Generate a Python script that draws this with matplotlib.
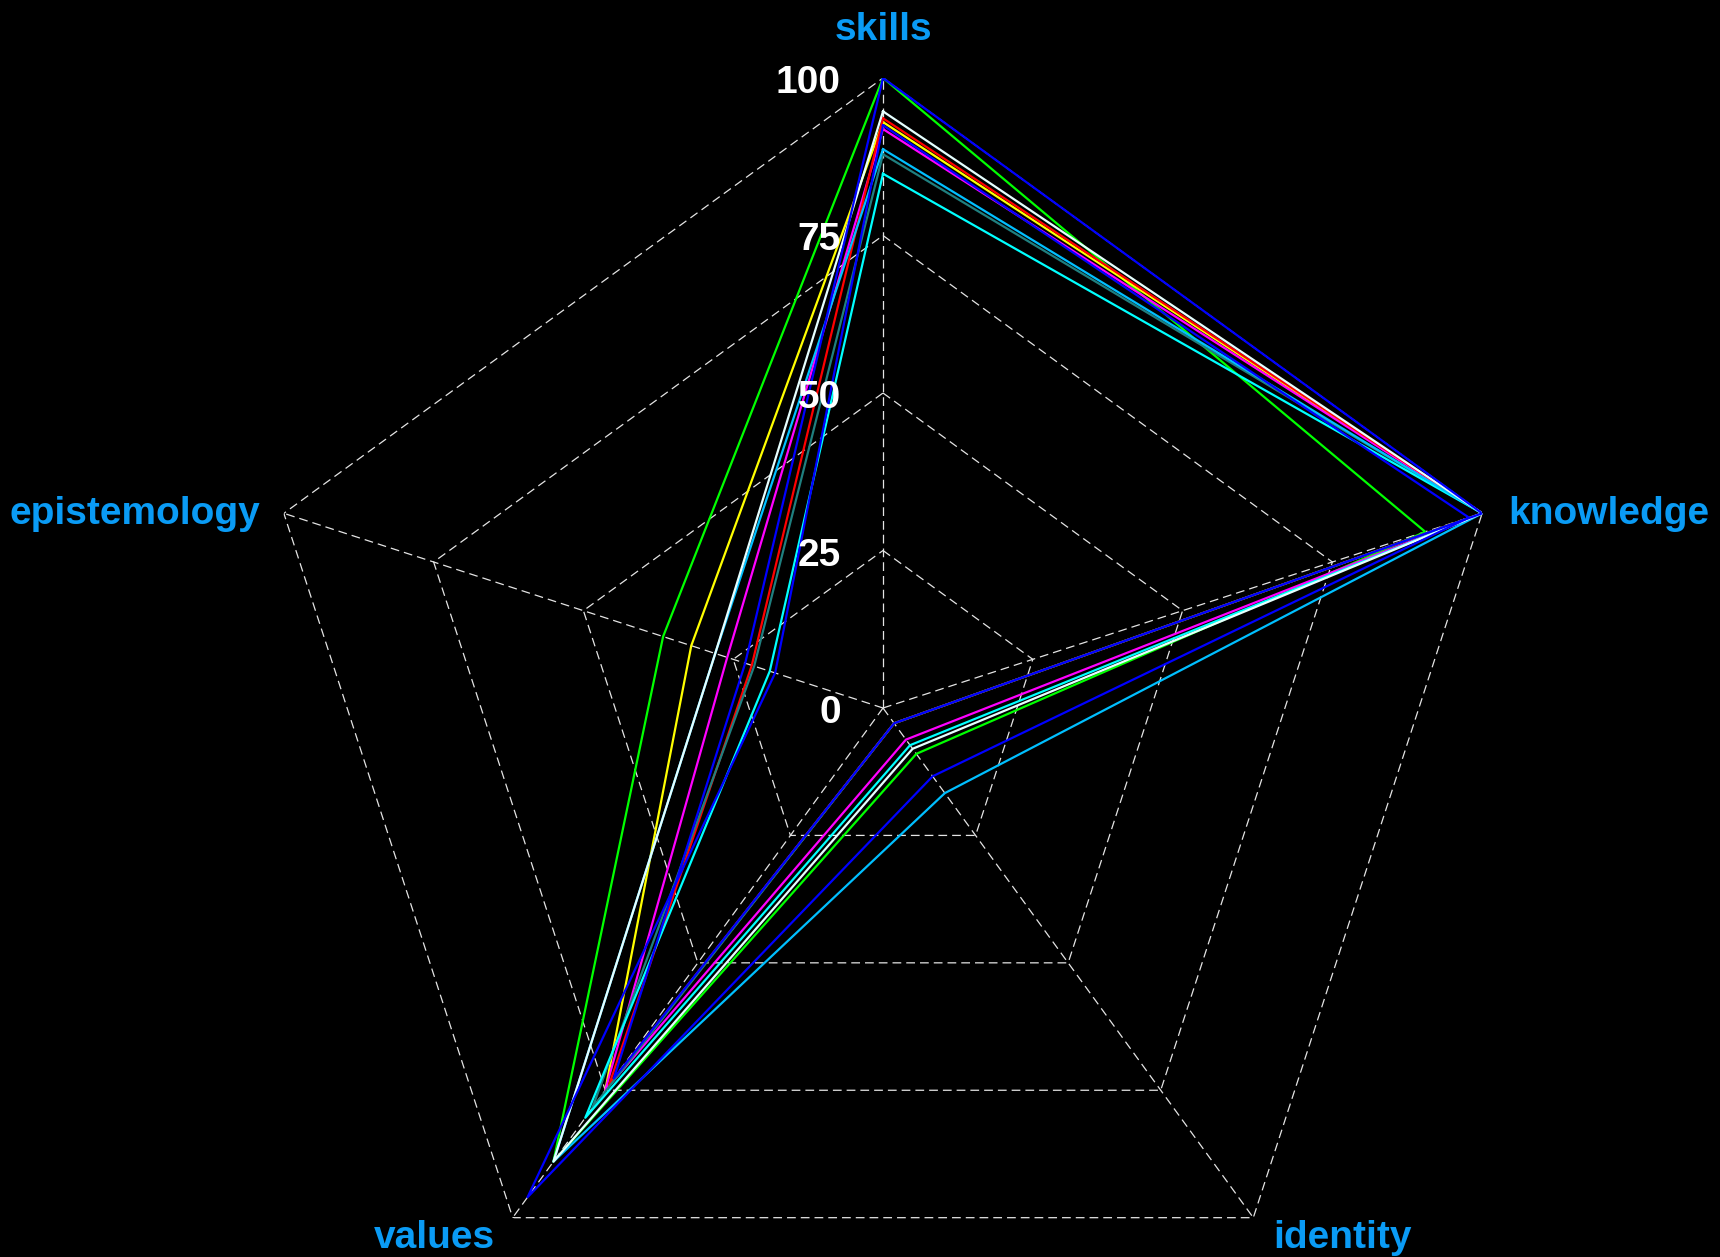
import numpy as np
import matplotlib
matplotlib.use('Agg')
import matplotlib.pyplot as plt

# axes of the radar, clockwise from the top
categories = ['skills', 'knowledge', 'identity', 'values', 'epistemology']
ticks = [0, 25, 50, 75, 100]

# one row per line: skills, knowledge, identity, values, epistemology
green = [100, 90.5, 9, 89, 36.7]
yellow = [93, 100, 3, 75, 32]
white = [94.7, 100, 8, 89, 28]
skyblue = [88.7, 100, 16.7, 89, 28]
magenta = [91.9, 100, 6.2, 75, 26]
red = [93.6, 100, 3, 74, 21.9]
teal = [87.9, 100, 3, 78.5, 21.5]
cyan = [84.8, 100, 7.3, 80.4, 18.9]
blue_a = [100, 100, 3, 72.7, 23]
blue_b = [92.5, 97.8, 13.4, 96, 18]

series = [
    (green, '#00FF00'),
    (yellow, '#FFFF00'),
    (magenta, '#FF00FF'),
    (red, '#FF0000'),
    (teal, '#1F7F7F'),
    (cyan, '#00FFFF'),
    (skyblue, '#00BFFF'),
    (white, '#E6FFFF'),
    (blue_b, '#0000FF'),
    (blue_a, '#0000FF'),
]

plt.rcParams['font.family'] = ['Liberation Sans', 'DejaVu Sans']

W, H = 1720, 1257
fig = plt.figure(figsize=(W / 100, H / 100), dpi=100, facecolor='black')

# centre of the chart and its outer radius, in pixels
cx, cy, R = 883, 708, 630
ax = fig.add_axes([(cx - R) / W, (H - cy - R) / H, 2 * R / W, 2 * R / H],
                  projection='polar', facecolor='none')
ax.set_theta_offset(np.pi / 2)
ax.set_theta_direction(-1)
ax.set_ylim(0, 100)
ax.grid(False)
ax.set_xticks([])
ax.set_yticks([])
ax.spines['polar'].set_visible(False)

n = len(categories)
angles = np.linspace(0, 2 * np.pi, n, endpoint=False)
closed = np.append(angles, angles[0])

# pentagon grid
grid_kw = dict(color='#E4E4E4', lw=0.9, ls=(0, (7, 4)), zorder=1)
for t in ticks[1:]:
    ax.plot(closed, [t] * (n + 1), **grid_kw)
for a in angles:
    ax.plot([a, a], [0, 100], **grid_kw)

for vals, col in series:
    ax.plot(closed, vals + vals[:1], color=col, lw=1.6, zorder=3)

# radial tick labels
for t in ticks:
    ax.annotate(str(t), (0, t), xytext=(-42, -1), textcoords='offset pixels',
                ha='right', va='center_baseline', color='white', fontsize=28,
                fontweight='bold', annotation_clip=False)

label_col = '#0A9BF5'
label_pos = [
    ((0, 52), 'center', 'center_baseline'),
    ((26, 3), 'left', 'center_baseline'),
    ((20, -16), 'left', 'center_baseline'),
    ((-18, -16), 'right', 'center_baseline'),
    ((-24, 3), 'right', 'center_baseline'),
]
for a, name, (off, ha, va) in zip(angles, categories, label_pos):
    ax.annotate(name, (a, 100), xytext=off, textcoords='offset pixels',
                ha=ha, va=va, color=label_col, fontsize=28,
                fontweight='bold', annotation_clip=False)

fig.savefig('out.png', dpi=100, facecolor='black')
